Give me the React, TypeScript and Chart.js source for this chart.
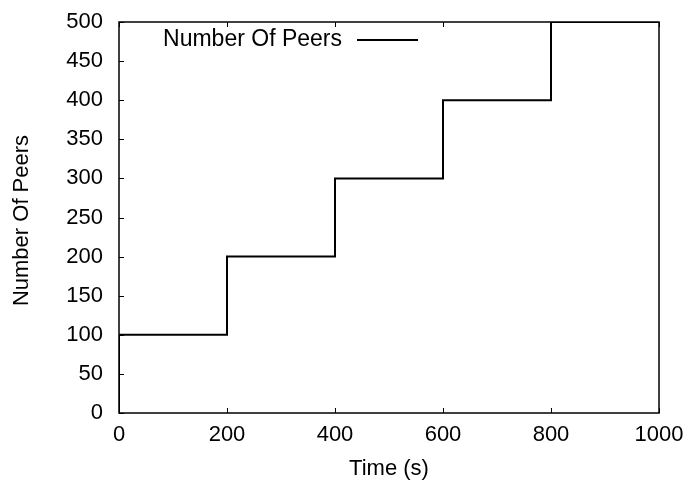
import React, { useEffect, useRef } from "react";
import { Chart, registerables } from "chart.js";

Chart.register(...registerables);

const times = [0, 0, 200, 400, 600, 800, 1000];
const peers = [0, 100, 200, 300, 400, 500, 500];
const seriesName = "Number Of Peers";
const xTitle = "Time (s)";
const yTitle = "Number Of Peers";
const xTicks = [0, 200, 400, 600, 800, 1000];
const yTicks = [0, 50, 100, 150, 200, 250, 300, 350, 400, 450, 500];

const FONT = "'Liberation Sans', Arial, Helvetica, sans-serif";

const framePlugin = {
  id: "frame",
  afterDraw(chart: any) {
    const { ctx, chartArea } = chart;
    const { left, right, top, bottom } = chartArea;
    const xs = chart.scales.x;
    const ys = chart.scales.y;
    ctx.save();
    ctx.strokeStyle = "#000";
    ctx.lineWidth = 1.5;
    ctx.strokeRect(left, top, right - left, bottom - top);
    ctx.lineWidth = 1;
    ctx.beginPath();
    for (const v of yTicks) {
      const y = Math.round(ys.getPixelForValue(v)) + 0.5;
      ctx.moveTo(left, y);
      ctx.lineTo(left + 5, y);
    }
    for (const v of xTicks) {
      const x = Math.round(xs.getPixelForValue(v)) + 0.5;
      ctx.moveTo(x, bottom);
      ctx.lineTo(x, bottom - 5);
      ctx.moveTo(x, top);
      ctx.lineTo(x, top + 5);
    }
    ctx.stroke();
    // titles
    ctx.fillStyle = "#000";
    ctx.font = `22px ${FONT}`;
    ctx.textAlign = "center";
    ctx.textBaseline = "middle";
    ctx.fillText(xTitle, (left + right) / 2, 469);
    ctx.save();
    ctx.translate(22, (top + bottom) / 2 + 3);
    ctx.rotate(-Math.PI / 2);
    ctx.fillText(yTitle, 0, 0);
    ctx.restore();
    // legend
    ctx.font = `23px ${FONT}`;
    ctx.textAlign = "right";
    ctx.textBaseline = "middle";
    ctx.fillText(seriesName, 342, 40);
    ctx.lineWidth = 2;
    ctx.beginPath();
    ctx.moveTo(357, 40);
    ctx.lineTo(418, 40);
    ctx.stroke();
    ctx.restore();
  },
};

export default function App() {
  const ref = useRef<HTMLCanvasElement>(null);
  useEffect(() => {
    const canvas = ref.current!;
    const chart = new Chart(canvas, {
      type: "line",
      data: {
        datasets: [
          {
            label: seriesName,
            data: times.map((t, i) => ({ x: t, y: peers[i] })),
            stepped: "before",
            borderColor: "#000",
            borderWidth: 2,
            pointRadius: 0,
            fill: false,
          },
        ],
      },
      options: {
        responsive: false,
        animation: false,
        layout: { padding: { top: 22, right: 34, left: 0, bottom: 0 } },
        plugins: { legend: { display: false }, tooltip: { enabled: false } },
        scales: {
          x: {
            type: "linear",
            min: 0,
            max: 1000,
            afterBuildTicks: (s: any) => {
              s.ticks = xTicks.map((v) => ({ value: v }));
            },
            afterFit: (s: any) => {
              s.height = 75;
              s.paddingLeft = 0;
              s.paddingRight = 0;
            },
            grid: { display: false, drawTicks: false },
            border: { display: false },
            ticks: {
              color: "#000",
              font: { family: FONT, size: 22 },
              padding: 9,
              maxRotation: 0,
              autoSkip: false,
              callback: (v: any) => String(v),
            },
          },
          y: {
            type: "linear",
            min: 0,
            max: 500,
            afterBuildTicks: (s: any) => {
              s.ticks = yTicks.map((v) => ({ value: v }));
            },
            afterFit: (s: any) => {
              s.width = 119;
              s.paddingTop = 0;
              s.paddingBottom = 0;
            },
            grid: { display: false, drawTicks: false },
            border: { display: false },
            ticks: {
              color: "#000",
              font: { family: FONT, size: 22 },
              padding: 16,
              autoSkip: false,
              callback: (v: any) => String(v),
            },
          },
        },
      },
      plugins: [framePlugin],
    });
    return () => chart.destroy();
  }, []);
  return (
    <div style={{ position: "absolute", left: 0, top: 0, width: 693, height: 488, background: "#fff" }}>
      <canvas ref={ref} width={693} height={488} />
    </div>
  );
}
